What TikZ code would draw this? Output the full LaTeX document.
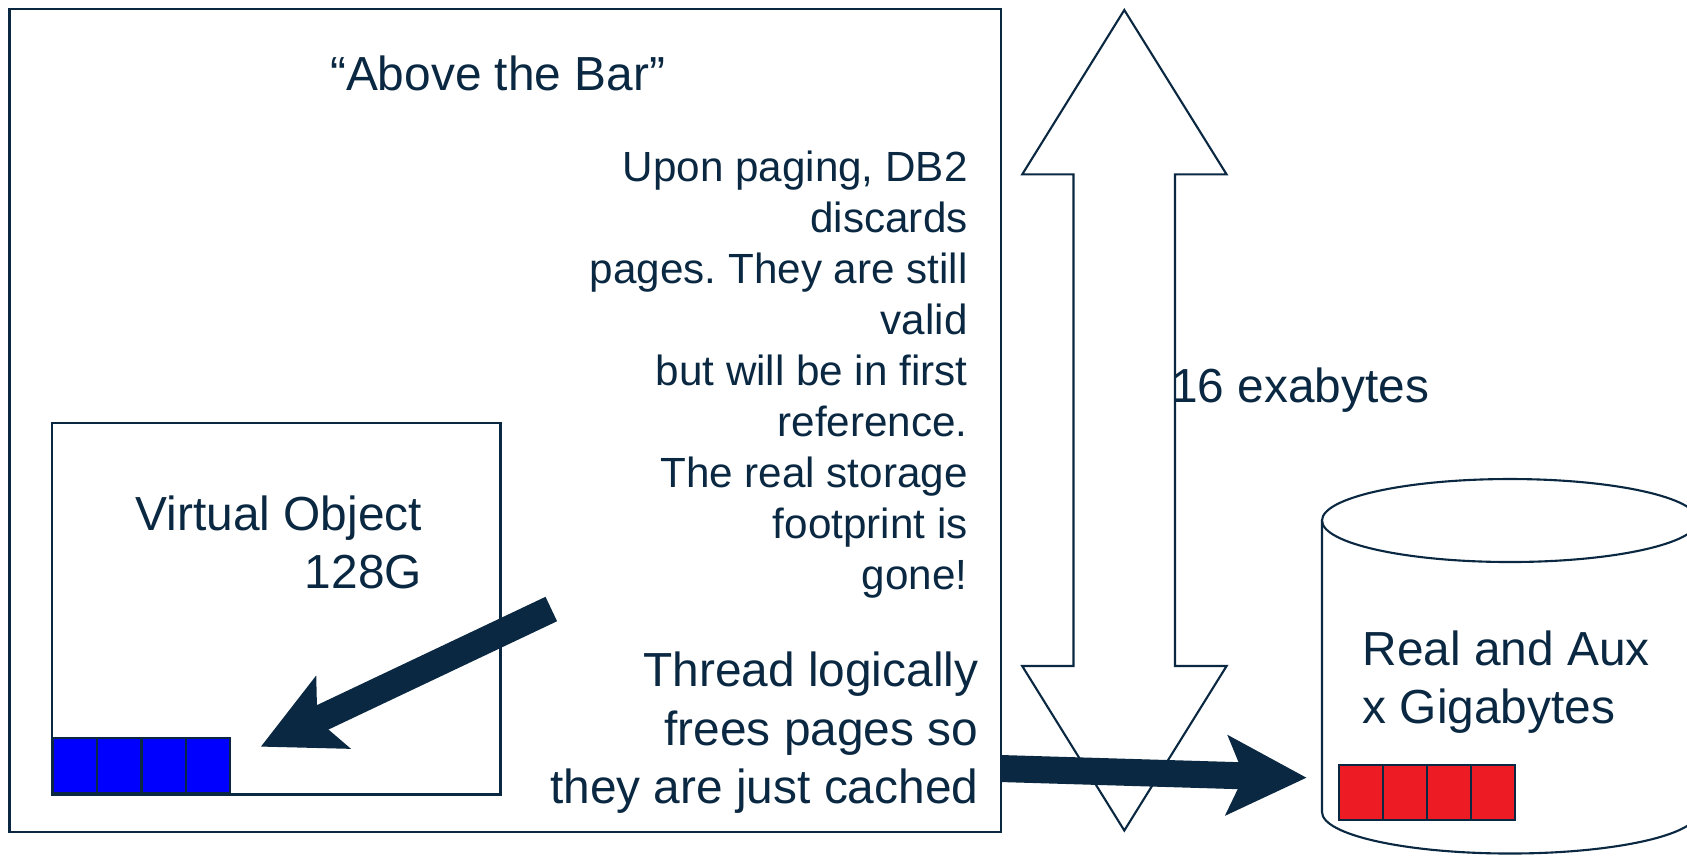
\documentclass[tikz,border=0pt]{standalone}
\usepackage{fontspec}
\setmainfont{Liberation Sans}
\usetikzlibrary{arrows.meta}
\frenchspacing
\definecolor{ink}{RGB}{10, 40, 65}
\definecolor{pageblue}{RGB}{0, 0, 255}
\definecolor{pagered}{RGB}{237, 28, 36}

\tikzset{
  boxline/.style={draw=ink, line width=0.6pt},
  pagecell/.style={draw=ink, line width=0.6pt, inner sep=0pt, anchor=south west,
    minimum width=0.443cm, minimum height=0.55cm},
  bigtext/.style={text=ink, inner sep=0pt, font=\fontsize{13.6}{16.5}\selectfont},
  notetext/.style={text=ink, inner sep=0pt, font=\fontsize{12}{14.5}\selectfont},
  fatarrow/.style={draw=ink, line width=0.27cm,
    -{Stealth[length=0.79cm, width=0.78cm, inset=0.165cm]}},
}

\begin{document}
\begin{tikzpicture}[x=0.01cm, y=-0.01cm]
\clip (0,0) rectangle (1687,856);

% above the bar
\draw[boxline] (9.5,8.6) rectangle (1000.6,831.7);
\node[bigtext, anchor=base] (title) at (497.6,90) {“Above the Bar”};
\node[notetext, align=right, anchor=base east] (discard) at (968.3,589)
  {Upon paging, DB2\\discards\\pages. They are still\\valid\\but will be in first\\reference.\\The real storage\\footprint is\\gone!};
\node[bigtext, align=right, anchor=base east] (thread) at (979,803)
  {Thread logically\\frees pages so\\they are just cached};

% virtual object
\draw[boxline] (51.6,422.8) rectangle (500.5,794.5);
\node[bigtext, align=right, anchor=base east] (vobj) at (422.7,588) {Virtual Object\\128G};
\foreach \i in {0,...,3}
  \node[pagecell, fill=pageblue] (blue\i) at (51.6+44.4*\i,794.5) {};

% address range
\draw[boxline, fill=white] (1124.3,10) -- (1226.6,174.4) -- (1175,174.4) -- (1175,666)
  -- (1226.6,666) -- (1124.3,830.5) -- (1022.2,666) -- (1073.5,666) -- (1073.5,174.4)
  -- (1022.2,174.4) -- cycle;
\node[bigtext, anchor=base west] (exa) at (1170.4,402) {16 exabytes};

% real and aux storage
\draw[boxline, fill=white] (1322,520.5) -- (1322,812)
  arc[start angle=180, end angle=0, x radius=188, y radius=41.5] -- (1698,520.5);
\draw[boxline] (1510,520.5) ellipse [x radius=188, y radius=41.5];
\node[bigtext, align=left, anchor=base west] (store) at (1362,723) {Real and Aux\\x Gigabytes};
\foreach \i in {0,...,3}
  \node[pagecell, fill=pagered] (red\i) at (1337.7+44.1*\i,821) {};

% arrows
\coordinate (freetail) at (551.3,609);
\coordinate (freetip) at (260.7,746.7);
\coordinate (cachetail) at (1000.6,768.5);
\coordinate (cachetip) at (1306.7,777.7);
\draw[fatarrow] (freetail) -- (freetip);
\draw[fatarrow] (cachetail) -- (cachetip);
\end{tikzpicture}
\end{document}
